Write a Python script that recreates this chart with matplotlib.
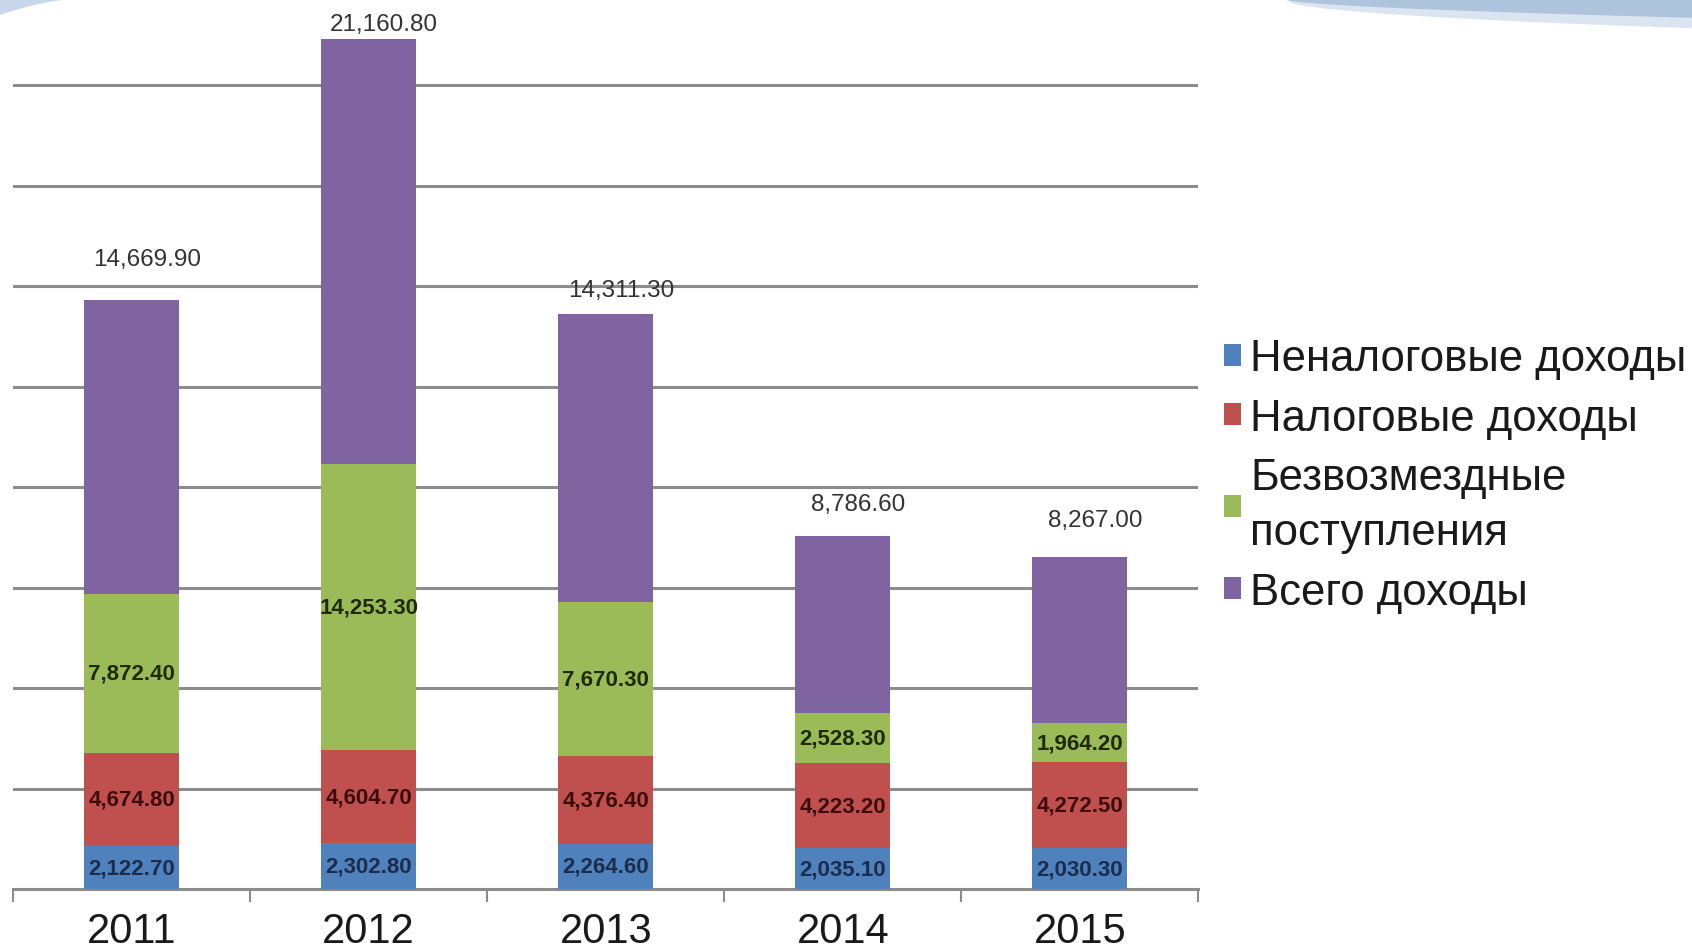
"""Stacked revenue bars by year, 2011-2015."""

import matplotlib

matplotlib.use("Agg")

import matplotlib.pyplot as plt
import numpy as np
from matplotlib.patches import Polygon

YEARS = ["2011", "2012", "2013", "2014", "2015"]
NON_TAX = [2122.7, 2302.8, 2264.6, 2035.1, 2030.3]
TAX = [4674.8, 4604.7, 4376.4, 4223.2, 4272.5]
GRANTS = [7872.4, 14253.3, 7670.3, 2528.3, 1964.2]
TOTAL = [14669.9, 21160.8, 14311.3, 8786.6, 8267.0]

SERIES = (
    ("Неналоговые доходы", NON_TAX, "#4f81bd", "#1c2c4c"),
    ("Налоговые доходы", TAX, "#c0504d", "#3c0c0c"),
    ("Безвозмездные\nпоступления", GRANTS, "#9bbb59", "#1e2a08"),
    ("Всего доходы", TOTAL, "#8064a2", "#333333"),
)

# offset of the top labels above the bars, in points
TOP_PAD = [21, 3, 9, 15, 19]

NARROW = ["Liberation Sans Narrow", "Liberation Sans", "DejaVu Sans"]


def fmt(value: float) -> str:
    return f"{value:,.2f}"


def add_swoosh(fig) -> None:
    # slide template decoration in the top corners
    x = np.linspace(0.76, 1.0, 60)
    upper = 1.0 - 0.019 * ((x - 0.76) / 0.24) ** 0.6
    lower = 1.0 - 0.03 * ((x - 0.76) / 0.24) ** 0.5
    fig.patches.append(
        Polygon(np.column_stack([np.r_[x, x[::-1]], np.r_[lower, np.ones_like(x)]]),
                closed=True, transform=fig.transFigure, color="#dbe5f1", zorder=0)
    )
    fig.patches.append(
        Polygon(np.column_stack([np.r_[x, x[::-1]], np.r_[upper, np.ones_like(x)]]),
                closed=True, transform=fig.transFigure, color="#aec3dc", zorder=0)
    )
    xl = np.linspace(0.0, 0.04, 30)
    yl = 1.0 - 0.016 * (1 - xl / 0.04) ** 1.5
    fig.patches.append(
        Polygon(np.column_stack([np.r_[xl, xl[::-1]], np.r_[yl, np.ones_like(xl)]]),
                closed=True, transform=fig.transFigure, color="#c9d7ea", zorder=0)
    )


def main() -> None:
    fig = plt.figure(figsize=(16.92, 9.53), dpi=100)
    ax = fig.add_axes([0.0077, 0.066, 0.7006, 0.934])
    add_swoosh(fig)

    x = np.arange(len(YEARS))
    bottom = np.zeros(len(YEARS))
    handles = []
    for label, values, color, text_color in SERIES:
        values = np.asarray(values, dtype=float)
        bars = ax.bar(x, values, width=0.4, bottom=bottom, color=color,
                      label=label, zorder=3)
        handles.append(bars)
        if label == "Всего доходы":
            for xi, top, v, pad in zip(x, bottom + values, values, TOP_PAD):
                ax.annotate(fmt(v), (xi, top), xytext=(11, pad),
                            textcoords="offset points", ha="center", va="bottom",
                            fontsize=17.5, color=text_color, family=NARROW)
        else:
            for xi, mid, v in zip(x, bottom + values / 2, values):
                ax.text(xi, mid, fmt(v), ha="center", va="center", fontsize=16,
                        fontweight="bold", color=text_color, family=NARROW, zorder=4)
        bottom = bottom + values

    ax.set_xlim(-0.5, len(YEARS) - 0.5)
    ax.set_ylim(0, 44300)
    for level in range(5000, 45000, 5000):
        ax.axhline(level, color="#8c8c8c", linewidth=2.2, zorder=1)

    ax.set_yticks([])
    ax.set_xticks(x)
    ax.set_xticklabels(YEARS, fontsize=30, color="#1a1a1a", family=NARROW)
    ax.set_xticks(np.arange(-0.5, len(YEARS)), minor=True)
    ax.tick_params(axis="x", which="major", length=0, pad=16)
    ax.tick_params(axis="x", which="minor", length=9, width=1.5, color="#8c8c8c")
    for side in ("top", "right", "left"):
        ax.spines[side].set_visible(False)
    ax.spines["bottom"].set_color("#8c8c8c")
    ax.spines["bottom"].set_linewidth(2.2)
    ax.patch.set_alpha(0)

    legend = fig.legend(handles=handles, loc="center left",
                        bbox_to_anchor=(0.7, 0.5), frameon=False,
                        handlelength=0.4, handleheight=0.4, handletextpad=0.2,
                        labelspacing=0.42,
                        prop={"family": "Liberation Sans", "size": 31.5})
    for text in legend.get_texts():
        text.set_linespacing(1.45)
        text.set_color("#1a1a1a")

    fig.savefig("out.png", dpi=100)
    plt.close(fig)


if __name__ == "__main__":
    main()
